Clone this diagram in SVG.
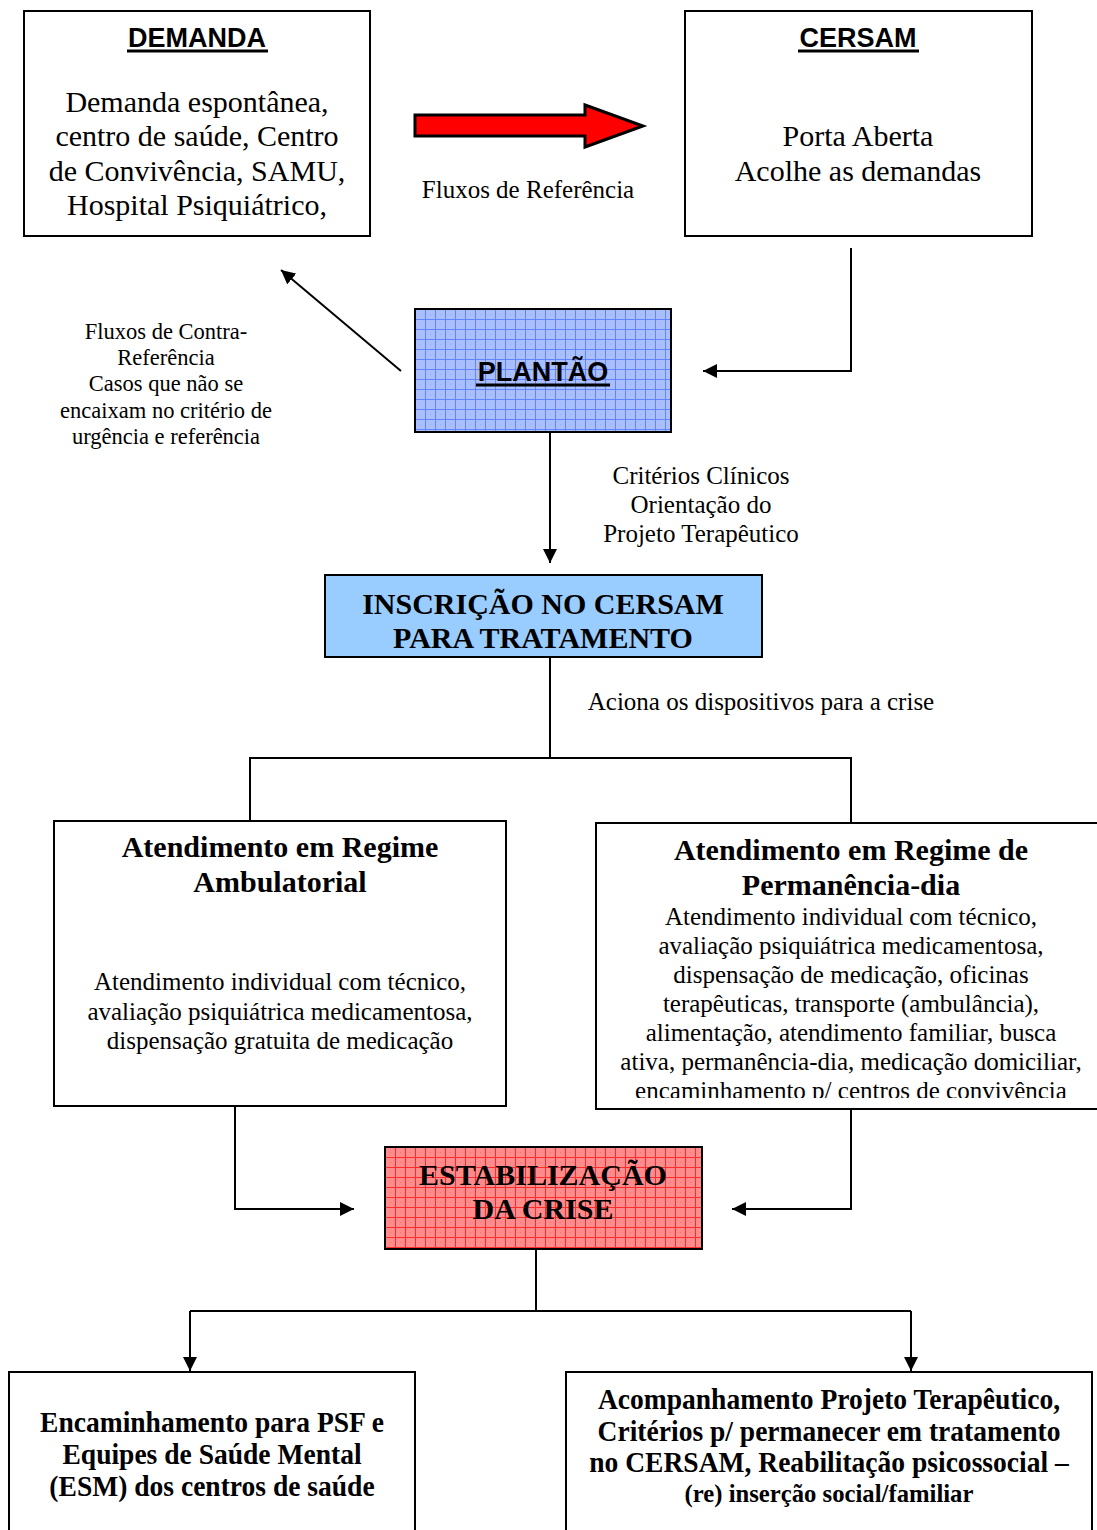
<svg xmlns="http://www.w3.org/2000/svg" width="1097" height="1530" viewBox="0 0 1097 1530">
<style>
.box{fill:#fff;stroke:#000;stroke-width:2}
.hdr{font-family:"Liberation Sans",Arial,sans-serif;font-weight:bold;font-size:27px;text-anchor:middle}
.ul{stroke:#000;stroke-width:3}
.body30{font-family:"Liberation Serif","Times New Roman",serif;font-size:30px;text-anchor:middle}
.b30{font-family:"Liberation Serif","Times New Roman",serif;font-size:30px;font-weight:bold;text-anchor:middle}
.body25{font-family:"Liberation Serif","Times New Roman",serif;font-size:25px;text-anchor:middle}
.lbl22{font-family:"Liberation Serif","Times New Roman",serif;font-size:22.5px;text-anchor:middle}
.bc{font-family:"Liberation Serif","Times New Roman",serif;font-size:29px;font-weight:bold;text-anchor:middle}
.conn{fill:none;stroke:#000;stroke-width:2}
</style>
<defs>
<pattern id="blueGrid" x="415" y="309" width="10" height="10" patternUnits="userSpaceOnUse">
<rect width="10" height="10" fill="#a9bfff"/>
<rect x="5" y="5" width="1" height="1" fill="#93acff"/>
<path d="M0 0.5H10M0.5 0V10" stroke="#6285ff" stroke-width="1"/>
</pattern>
<pattern id="redGrid" x="385" y="1147" width="10" height="10" patternUnits="userSpaceOnUse">
<rect width="10" height="10" fill="#ff8c8c"/>
<rect x="5" y="5" width="1" height="1" fill="#ff7070"/>
<path d="M0 0.5H10M0.5 0V10" stroke="#ff2a2a" stroke-width="1"/>
</pattern>
<marker id="ah" viewBox="0 0 10 10" refX="10" refY="5" markerWidth="7" markerHeight="7" markerUnits="strokeWidth" orient="auto">
<path d="M0 0L10 5L0 10z" fill="#000"/>
</marker>
<clipPath id="permClip"><rect x="596" y="823" width="501" height="275"/></clipPath>
</defs>

<g id="connectors">
<polyline class="conn" points="851,248 851,371 703,371" marker-end="url(#ah)"/>
<line class="conn" x1="401" y1="371" x2="281" y2="270" marker-end="url(#ah)"/>
<line class="conn" x1="550" y1="432" x2="550" y2="563" marker-end="url(#ah)"/>
<line class="conn" x1="550" y1="657" x2="550" y2="758"/>
<polyline class="conn" points="250,820 250,758 851,758 851,823"/>
<polyline class="conn" points="235,1106 235,1209 354,1209" marker-end="url(#ah)"/>
<polyline class="conn" points="851,1109 851,1209 732,1209" marker-end="url(#ah)"/>
<line class="conn" x1="536" y1="1249" x2="536" y2="1311"/>
<line class="conn" x1="190" y1="1311" x2="911" y2="1311"/>
<line class="conn" x1="190" y1="1311" x2="190" y2="1371" marker-end="url(#ah)"/>
<line class="conn" x1="911" y1="1311" x2="911" y2="1371" marker-end="url(#ah)"/>
<polygon points="415,115 585,115 585,105 643,126 585,147 585,136 415,136" fill="#ff0000" stroke="#000" stroke-width="3" stroke-linejoin="miter"/>
</g>

<g id="labels">
<text class="body25" x="528" y="198">Fluxos de Referência</text>
<text class="lbl22" x="166"><tspan x="166" y="339">Fluxos de Contra-</tspan><tspan x="166" y="365">Referência</tspan><tspan x="166" y="391">Casos que não se</tspan><tspan x="166" y="418">encaixam no critério de</tspan><tspan x="166" y="444">urgência e referência</tspan></text>
<text class="body25" x="701"><tspan x="701" y="484">Critérios Clínicos</tspan><tspan x="701" y="513">Orientação do</tspan><tspan x="701" y="542">Projeto Terapêutico</tspan></text>
<text class="body25" x="761" y="710">Aciona os dispositivos para a crise</text>
</g>

<g id="demanda">
<rect class="box" x="24" y="11" width="346" height="225"/>
<text class="hdr" x="197" y="47">DEMANDA</text>
<line class="ul" x1="127" y1="51" x2="268" y2="51"/>
<text class="body30"><tspan x="197" y="112">Demanda espontânea,</tspan><tspan x="197" y="146">centro de saúde, Centro</tspan><tspan x="197" y="181">de Convivência, SAMU,</tspan><tspan x="197" y="215">Hospital Psiquiátrico,</tspan></text>
</g>

<g id="cersam">
<rect class="box" x="685" y="11" width="347" height="225"/>
<text class="hdr" x="858" y="47">CERSAM</text>
<line class="ul" x1="798" y1="51" x2="919" y2="51"/>
<text class="body30"><tspan x="858" y="146">Porta Aberta</tspan><tspan x="858" y="181">Acolhe as demandas</tspan></text>
</g>

<g id="plantao">
<rect x="415" y="309" width="256" height="123" fill="url(#blueGrid)" stroke="#000" stroke-width="2"/>
<text class="hdr" x="543" y="381">PLANTÃO</text>
<line class="ul" x1="476" y1="385" x2="610" y2="385"/>
</g>

<g id="inscricao">
<rect x="325" y="575" width="437" height="82" fill="#99ccff" stroke="#000" stroke-width="2"/>
<text class="b30"><tspan x="543" y="614">INSCRIÇÃO NO CERSAM</tspan><tspan x="543" y="648">PARA TRATAMENTO</tspan></text>
</g>

<g id="ambulatorial">
<rect class="box" x="54" y="821" width="452" height="285"/>
<text class="b30"><tspan x="280" y="857">Atendimento em Regime</tspan><tspan x="280" y="892">Ambulatorial</tspan></text>
<text class="body25"><tspan x="280" y="990">Atendimento individual com técnico,</tspan><tspan x="280" y="1020">avaliação psiquiátrica medicamentosa,</tspan><tspan x="280" y="1049">dispensação gratuita de medicação</tspan></text>
</g>

<g id="permanencia">
<rect class="box" x="596" y="823" width="510" height="286"/>
<text class="b30"><tspan x="851" y="860">Atendimento em Regime de</tspan><tspan x="851" y="895">Permanência-dia</tspan></text>
<g clip-path="url(#permClip)">
<text class="body25"><tspan x="851" y="925">Atendimento individual com técnico,</tspan><tspan x="851" y="954">avaliação psiquiátrica medicamentosa,</tspan><tspan x="851" y="983">dispensação de medicação, oficinas</tspan><tspan x="851" y="1012">terapêuticas, transporte (ambulância),</tspan><tspan x="851" y="1041">alimentação, atendimento familiar, busca</tspan><tspan x="851" y="1070">ativa, permanência-dia, medicação domiciliar,</tspan><tspan x="851" y="1099">encaminhamento p/ centros de convivência</tspan></text>
</g>
</g>

<g id="estabilizacao">
<rect x="385" y="1147" width="317" height="102" fill="url(#redGrid)" stroke="#000" stroke-width="2"/>
<text class="b30"><tspan x="543" y="1185">ESTABILIZAÇÃO</tspan><tspan x="543" y="1219">DA CRISE</tspan></text>
</g>

<g id="encaminhamento">
<rect class="box" x="9" y="1372" width="406" height="170"/>
<g transform="translate(212,0) scale(0.95,1)">
<text class="bc"><tspan x="0" y="1432">Encaminhamento para PSF e</tspan><tspan x="0" y="1464">Equipes de Saúde Mental</tspan><tspan x="0" y="1496">(ESM) dos centros de saúde</tspan></text>
</g>
</g>

<g id="acompanhamento">
<rect class="box" x="566" y="1372" width="526" height="170"/>
<g transform="translate(829,0) scale(0.95,1)">
<text class="bc"><tspan x="0" y="1409">Acompanhamento Projeto Terapêutico,</tspan><tspan x="0" y="1441">Critérios p/ permanecer em tratamento</tspan><tspan x="0" y="1472">no CERSAM, Reabilitação psicossocial –</tspan><tspan x="0" y="1502" font-size="26">(re) inserção social/familiar</tspan></text>
</g>
</g>
</svg>
